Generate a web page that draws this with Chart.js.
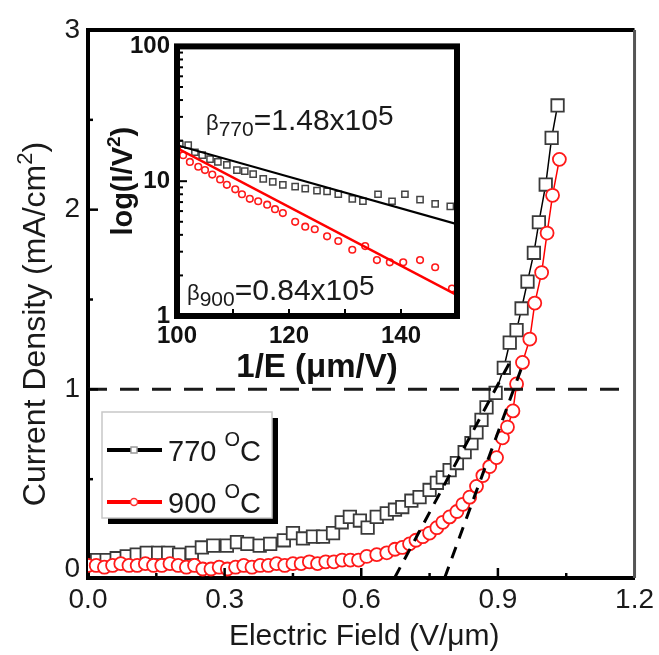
<!DOCTYPE html>
<html>
<head>
<meta charset="utf-8">
<script src="https://cdn.jsdelivr.net/npm/chart.js@4.4.1/dist/chart.umd.min.js"></script>
<style>
  html, body { margin: 0; padding: 0; background: #fff; }
  #wrap { position: relative; width: 659px; height: 655px; }
  #mainChart { position: absolute; left: 0; top: 0; }
  #insetChart { position: absolute; left: 95px; top: 25px; }
</style>
</head>
<body>
<div id="wrap">
  <canvas id="mainChart" width="659" height="655"></canvas>
  <canvas id="insetChart" width="375" height="365"></canvas>
</div>
<script>
// J-E curves, 770 C sample
const field770 = [0.02, 0.041, 0.063, 0.085, 0.107, 0.129, 0.154, 0.176, 0.2, 0.228, 0.25, 0.275, 0.305, 0.327, 0.35, 0.377, 0.4, 0.43, 0.45, 0.472, 0.494, 0.516, 0.538, 0.557, 0.575, 0.597, 0.614, 0.634, 0.656, 0.674, 0.69, 0.71, 0.728, 0.75, 0.766, 0.779, 0.794, 0.81, 0.827, 0.842, 0.853, 0.864, 0.875, 0.895, 0.913, 0.926, 0.941, 0.952, 0.965, 0.979, 0.99, 1.005, 1.018, 1.031];
const current770 = [0.05, 0.05, 0.06, 0.07, 0.08, 0.09, 0.09, 0.09, 0.08, 0.09, 0.12, 0.13, 0.13, 0.15, 0.14, 0.13, 0.14, 0.16, 0.2, 0.17, 0.18, 0.18, 0.2, 0.26, 0.29, 0.27, 0.23, 0.29, 0.31, 0.33, 0.345, 0.38, 0.4, 0.44, 0.48, 0.51, 0.55, 0.59, 0.65, 0.7, 0.76, 0.83, 0.9, 0.98, 1.12, 1.26, 1.33, 1.45, 1.6, 1.76, 1.93, 2.14, 2.4, 2.58];

// J-E curves, 900 C sample
const field900 = [0, 0.018, 0.036, 0.054, 0.072, 0.09, 0.108, 0.126, 0.144, 0.162, 0.18, 0.198, 0.216, 0.234, 0.252, 0.27, 0.288, 0.306, 0.324, 0.342, 0.36, 0.378, 0.396, 0.414, 0.432, 0.45, 0.468, 0.486, 0.504, 0.522, 0.54, 0.558, 0.576, 0.594, 0.612, 0.634, 0.656, 0.674, 0.69, 0.706, 0.72, 0.735, 0.75, 0.766, 0.779, 0.794, 0.81, 0.823, 0.838, 0.853, 0.867, 0.882, 0.897, 0.91, 0.921, 0.933, 0.941, 0.954, 0.97, 0.981, 0.996, 1.008, 1.02, 1.035];
const current900 = [0.02, 0.02, 0.01, 0.02, 0.03, 0.02, 0.02, 0.03, 0.02, 0.02, 0.03, 0.02, 0.01, 0.02, 0.0, 0.0, 0.01, 0.0, 0.01, 0.02, 0.01, 0.02, 0.02, 0.03, 0.02, 0.03, 0.03, 0.04, 0.03, 0.04, 0.04, 0.05, 0.05, 0.05, 0.07, 0.08, 0.09, 0.11, 0.12, 0.14, 0.16, 0.18, 0.2, 0.23, 0.26, 0.29, 0.32, 0.36, 0.4, 0.46, 0.52, 0.57, 0.62, 0.73, 0.79, 0.88, 1.03, 1.15, 1.28, 1.48, 1.65, 1.87, 2.08, 2.28];

// threshold extrapolation lines and the 1 mA/cm2 level
const tangentA_E = [0.673, 0.926];
const tangentA_J = [-0.05, 1.15];
const tangentB_E = [0.783, 0.952];
const tangentB_J = [-0.05, 1.12];
const levelE = [0, 1.17];
const levelJ = [1, 1];

const xTicks = [0, 0.3, 0.6, 0.9, 1.2];
const xMinorTicks = [0.15, 0.45, 0.75, 1.05];
const yTicks = [0, 1, 2, 3];
const yMinorTicks = [0.5, 1.5, 2.5];

// Fowler-Nordheim plot (inset)
const invE770 = [100.5, 102.0, 103.2, 104.5, 105.9, 107.3, 108.9, 110.7, 112.1, 113.6, 115.4, 117.1, 118.9, 121.1, 122.9, 125.0, 126.8, 128.8, 131.3, 133.2, 135.9, 138.4, 140.7, 143.4, 146.1, 148.8];
const fn770 = [18.8, 18.5, 16.4, 15.6, 14.6, 13.9, 13.2, 12.1, 11.9, 11.3, 10.4, 9.9, 9.4, 9.1, 8.8, 8.5, 8.4, 8.0, 7.4, 7.1, 8.0, 7.1, 8.0, 7.3, 6.8, 6.5];
const invE900 = [100.0, 101.1, 102.3, 103.8, 105.0, 106.3, 107.7, 108.9, 110.4, 111.6, 113.0, 114.5, 116.1, 117.5, 118.9, 121.1, 122.9, 124.6, 126.8, 128.8, 131.3, 133.6, 135.7, 138.0, 140.4, 143.4, 146.1, 149.1];
const fn900 = [17.3, 15.6, 13.9, 12.8, 12.1, 11.2, 10.3, 9.4, 8.7, 8.0, 7.4, 7.1, 6.7, 6.2, 5.8, 5.0, 4.6, 4.4, 3.9, 3.6, 3.1, 3.3, 2.6, 2.5, 2.5, 2.6, 2.3, 1.6];
const fitInvE = [100, 150];
const fit770 = [18.5, 4.8];
const fit900 = [17.6, 1.43];

const insetXTicks = [100, 110, 120, 130, 140, 150];
const insetXLabels = [100, 120, 140];
const insetYTicks = [1, 10, 100];

const FONT = "'Liberation Sans', Arial, Helvetica, sans-serif";

function pts(xs, ys) {
  return xs.map((x, i) => ({ x: x, y: ys[i] }));
}

// draws a run of text pieces (sub/superscripts) left to right
// each part: [text, size, bold, dy]
function drawRich(ctx, parts, x, y, align) {
  let total = 0;
  const widths = parts.map(p => {
    ctx.font = (p[2] ? 'bold ' : '') + p[1] + 'px ' + FONT;
    const w = ctx.measureText(p[0]).width;
    total += w;
    return w;
  });
  let cx = align === 'center' ? x - total / 2 : x;
  ctx.textAlign = 'left';
  ctx.textBaseline = 'alphabetic';
  parts.forEach((p, i) => {
    ctx.font = (p[2] ? 'bold ' : '') + p[1] + 'px ' + FONT;
    ctx.fillText(p[0], cx, y + (p[3] || 0));
    cx += widths[i];
  });
}

// ---------- main panel ----------
const mainDecor = {
  id: 'mainDecor',
  afterDraw(chart) {
    const { ctx, chartArea: a, scales: { x, y } } = chart;
    ctx.save();

    // top and right frame
    ctx.lineCap = 'butt';
    ctx.strokeStyle = '#000';
    ctx.lineWidth = 4;
    ctx.beginPath();
    ctx.moveTo(a.left, a.top);
    ctx.lineTo(a.right, a.top);
    ctx.stroke();
    ctx.strokeStyle = '#555';
    ctx.lineWidth = 3;
    ctx.beginPath();
    ctx.moveTo(a.right, a.top);
    ctx.lineTo(a.right, a.bottom);
    ctx.stroke();

    // inward tick marks
    ctx.strokeStyle = '#000';
    ctx.lineWidth = 2.5;
    const tick = (x1, y1, x2, y2) => { ctx.beginPath(); ctx.moveTo(x1, y1); ctx.lineTo(x2, y2); ctx.stroke(); };
    xTicks.slice(1, -1).forEach(v => { const p = x.getPixelForValue(v); tick(p, a.bottom, p, a.bottom - 10); });
    xMinorTicks.forEach(v => { const p = x.getPixelForValue(v); tick(p, a.bottom, p, a.bottom - 5); });
    yTicks.slice(1, -1).forEach(v => { const p = y.getPixelForValue(v); tick(a.left, p, a.left + 10, p); });
    yMinorTicks.forEach(v => { const p = y.getPixelForValue(v); tick(a.left, p, a.left + 5, p); });

    // axis titles
    ctx.fillStyle = '#1a1a1a';
    drawRich(ctx, [['Electric Field (V/\u03bcm)', 30]], (a.left + a.right) / 2 + 3, a.bottom + 67, 'center');
    ctx.save();
    ctx.translate(a.left - 43, (a.top + a.bottom) / 2 + 20);
    ctx.rotate(-Math.PI / 2);
    drawRich(ctx, [['Current Density (mA/cm', 32], ['2', 22, false, -13], [')', 32]], 0, 0, 'center');
    ctx.restore();

    // legend box with drop shadow
    const bx = a.left + 14, by = a.top + 382, bw = 170, bh = 106;
    ctx.fillStyle = '#000';
    ctx.fillRect(bx + 6, by + 6, bw, bh);
    ctx.fillStyle = '#fff';
    ctx.fillRect(bx, by, bw, bh);
    ctx.strokeStyle = '#c8c8c8';
    ctx.lineWidth = 1.5;
    ctx.strokeRect(bx, by, bw, bh);

    const rows = [
      { label: '770 ', color: '#000', marker: 'rect', dy: 38 },
      { label: '900 ', color: '#ff0000', marker: 'circle', dy: 90 }
    ];
    rows.forEach(r => {
      const ly = by + r.dy;
      ctx.strokeStyle = r.color;
      ctx.lineWidth = 4;
      tick(bx + 5, ly, bx + 60, ly);
      ctx.fillStyle = '#fff';
      ctx.lineWidth = 1.5;
      ctx.beginPath();
      if (r.marker === 'rect') {
        ctx.strokeStyle = '#999';
        ctx.rect(bx + 29, ly - 3, 6, 6);
      } else {
        ctx.strokeStyle = '#ff3030';
        ctx.arc(bx + 32, ly, 3.5, 0, Math.PI * 2);
      }
      ctx.fill();
      ctx.stroke();
      ctx.fillStyle = '#1a1a1a';
      drawRich(ctx, [[r.label, 29], ['O', 20, false, -15], ['C', 29]], bx + 66, ly + 11, 'left');
    });

    ctx.restore();
  }
};

new Chart(document.getElementById('mainChart'), {
  type: 'scatter',
  data: {
    datasets: [
      {
        data: pts(tangentA_E, tangentA_J), showLine: true, borderColor: '#000', borderWidth: 3,
        borderDash: [12, 9], pointRadius: 0, order: 0
      },
      {
        data: pts(tangentB_E, tangentB_J), showLine: true, borderColor: '#000', borderWidth: 3,
        borderDash: [12, 9], pointRadius: 0, order: 0
      },
      {
        data: pts(levelE, levelJ), showLine: true, borderColor: '#1a1a1a', borderWidth: 3,
        borderDash: [19, 13], pointRadius: 0, order: 0
      },
      {
        label: '900 \u00b0C', data: pts(field900, current900), showLine: true,
        borderColor: '#ff0000', borderWidth: 1.5,
        pointStyle: 'circle', pointRadius: 6.5, pointBorderWidth: 1.8,
        pointBorderColor: '#ff1a1a', pointBackgroundColor: '#fff', order: 1
      },
      {
        label: '770 \u00b0C', data: pts(field770, current770), showLine: true,
        borderColor: '#000', borderWidth: 1.5,
        pointStyle: 'rect', pointRadius: 8.8, pointBorderWidth: 1.8,
        pointBorderColor: '#3a3a3a', pointBackgroundColor: '#fff', order: 2
      }
    ]
  },
  options: {
    responsive: false,
    animation: false,
    layout: { padding: { top: 30, right: 24, left: 0, bottom: 0 } },
    plugins: { legend: { display: false }, tooltip: { enabled: false } },
    scales: {
      x: {
        type: 'linear', min: 0, max: 1.2,
        afterBuildTicks: s => { s.ticks = xTicks.map(v => ({ value: v })); },
        afterFit: s => { s.height = 77; },
        grid: { display: false, drawTicks: false },
        border: { display: true, width: 4, color: '#000' },
        ticks: {
          callback: v => v.toFixed(1), font: { family: FONT, size: 28 }, color: '#1a1a1a',
          padding: 5, maxRotation: 0, autoSkip: false
        }
      },
      y: {
        type: 'linear', min: -0.05, max: 3,
        afterBuildTicks: s => { s.ticks = yTicks.map(v => ({ value: v })); },
        afterFit: s => { s.width = 88; },
        grid: { display: false, drawTicks: false },
        border: { display: true, width: 4, color: '#000' },
        ticks: {
          callback: v => String(v), font: { family: FONT, size: 28 }, color: '#1a1a1a',
          padding: 8, autoSkip: false
        }
      }
    }
  },
  plugins: [mainDecor]
});

// ---------- inset: F-N plot ----------
const insetDecor = {
  id: 'insetDecor',
  beforeDraw(chart) {
    const { ctx, chartArea: a } = chart;
    ctx.save();
    ctx.fillStyle = '#fff';
    ctx.fillRect(a.left, a.top, a.right - a.left, a.bottom - a.top);
    ctx.restore();
  },
  afterDraw(chart) {
    const { ctx, chartArea: a, scales: { x, y } } = chart;
    ctx.save();
    const tick = (x1, y1, x2, y2) => { ctx.beginPath(); ctx.moveTo(x1, y1); ctx.lineTo(x2, y2); ctx.stroke(); };

    // log minor ticks on the left, ticks on the bottom
    ctx.strokeStyle = '#000';
    ctx.lineWidth = 2;
    for (let d = 0; d < insetYTicks.length - 1; d++) {
      for (let m = 2; m <= 9; m++) {
        const p = y.getPixelForValue(insetYTicks[d] * m);
        tick(a.left, p, a.left + 6, p);
      }
      if (d > 0) {
        const p = y.getPixelForValue(insetYTicks[d]);
        tick(a.left, p, a.left + 10, p);
      }
    }
    insetXTicks.slice(1, -1).forEach(v => {
      const p = x.getPixelForValue(v);
      tick(p, a.bottom, p, a.bottom - 7);
    });

    // thick frame
    ctx.lineWidth = 6;
    ctx.strokeRect(a.left, a.top, a.right - a.left, a.bottom - a.top);

    // axis titles
    ctx.fillStyle = '#111';
    drawRich(ctx, [['1/E (\u03bcm/V)', 33, true]], (a.left + a.right) / 2, a.bottom + 61, 'center');
    ctx.save();
    ctx.translate(a.left - 45, (a.top + a.bottom) / 2);
    ctx.rotate(-Math.PI / 2);
    drawRich(ctx, [['log(I/V', 29, true], ['2', 19, true, -12], [')', 29, true]], 0, 0, 'center');
    ctx.restore();

    // field enhancement factors
    ctx.fillStyle = '#1a1a1a';
    drawRich(ctx, [['\u03b2', 22], ['770', 21, false, 6], ['=1.48x10', 30], ['5', 28, false, -5]], a.left + 29, a.top + 84, 'left');
    drawRich(ctx, [['\u03b2', 22], ['900', 21, false, 6], ['=0.84x10', 30], ['5', 28, false, -5]], a.left + 10, a.top + 254, 'left');

    ctx.restore();
  }
};

new Chart(document.getElementById('insetChart'), {
  type: 'scatter',
  data: {
    datasets: [
      {
        data: pts(fitInvE, fit900), showLine: true, borderColor: '#ff0000', borderWidth: 2.5,
        pointRadius: 0, order: 0
      },
      {
        data: pts(fitInvE, fit770), showLine: true, borderColor: '#000', borderWidth: 2.2,
        pointRadius: 0, order: 0
      },
      {
        data: pts(invE900, fn900), pointStyle: 'circle', pointRadius: 3.3, pointBorderWidth: 1.6,
        pointBorderColor: '#ff1a1a', pointBackgroundColor: '#fff', order: 1
      },
      {
        data: pts(invE770, fn770), pointStyle: 'rect', pointRadius: 4.4, pointBorderWidth: 1.5,
        pointBorderColor: '#444', pointBackgroundColor: '#fff', order: 2
      }
    ]
  },
  options: {
    responsive: false,
    animation: false,
    layout: { padding: { top: 18, right: 13, left: 0, bottom: 0 } },
    plugins: { legend: { display: false }, tooltip: { enabled: false } },
    scales: {
      x: {
        type: 'linear', min: 100, max: 150,
        afterBuildTicks: s => { s.ticks = insetXTicks.map(v => ({ value: v })); },
        afterFit: s => { s.height = 74; },
        grid: { display: false, drawTicks: false },
        border: { display: false },
        ticks: {
          callback: v => insetXLabels.includes(v) ? String(v) : '',
          font: { family: FONT, size: 24, weight: 'bold' }, color: '#111',
          padding: 6, maxRotation: 0, autoSkip: false
        }
      },
      y: {
        type: 'logarithmic', min: 1, max: 100,
        afterBuildTicks: s => { s.ticks = insetYTicks.map(v => ({ value: v })); },
        afterFit: s => { s.width = 82; },
        grid: { display: false, drawTicks: false },
        border: { display: false },
        ticks: {
          callback: v => String(v),
          font: { family: FONT, size: 24, weight: 'bold' }, color: '#111',
          padding: 7, autoSkip: false
        }
      }
    }
  },
  plugins: [insetDecor]
});
</script>
</body>
</html>
